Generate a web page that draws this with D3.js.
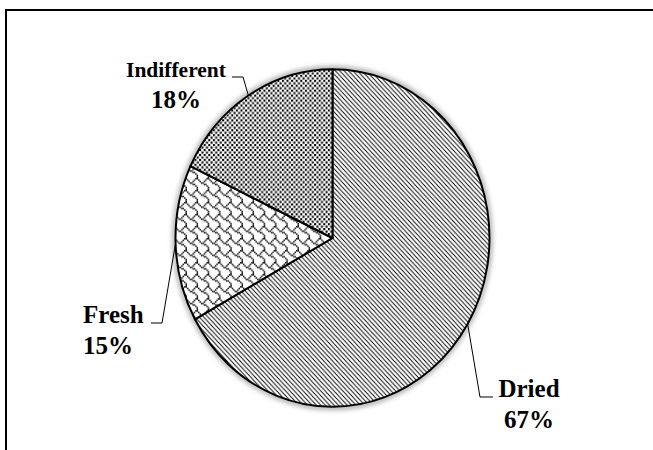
<!DOCTYPE html>
<html>
<head>
<meta charset="utf-8">
<script src="https://cdn.jsdelivr.net/npm/d3@7"></script>
<style>
  html, body { margin: 0; padding: 0; background: #fff; overflow: hidden; }
  svg { display: block; }
  .lbl { font-family: "Liberation Serif", "Times New Roman", serif; font-weight: bold; fill: #000; }
</style>
</head>
<body>
<div id="chart"></div>
<script>
// datos del grafico
const categories = ['Dried', 'Fresh', 'Indifferent'];
const shares = [67, 15, 18];
const pctLabels = ['67%', '15%', '18%'];

const width = 653;
const height = 450;
const cx = 332.5, cy = 238;
const radius = 157;
const stretch = 1.075; // la imagen original esta algo estirada en vertical

const svg = d3.select('#chart')
  .append('svg')
  .attr('width', width)
  .attr('height', height);

const defs = svg.append('defs');

// trama "Shingle" de Excel, bitmap 8x8 dibujado con rectangulos
function bitmapPattern(id, rows, s) {
  const p = defs.append('pattern')
    .attr('id', id)
    .attr('patternUnits', 'userSpaceOnUse')
    .attr('width', 8 * s)
    .attr('height', rows.length * s);
  p.append('rect').attr('width', 8 * s).attr('height', rows.length * s).attr('fill', '#fff');
  rows.forEach((r, j) => {
    for (let i = 0; i < 8; i++) {
      if (r & (0x80 >> i)) {
        p.append('rect')
          .attr('x', i * s).attr('y', j * s)
          .attr('width', s).attr('height', s)
          .attr('fill', '#000');
      }
    }
  });
}
bitmapPattern('pat-fresh', [0x03, 0x84, 0x48, 0x30, 0x0c, 0x02, 0x01, 0x01], 1.4);

// rayas diagonales para "Dried"
const step = 4.4;
const stripes = defs.append('pattern')
  .attr('id', 'pat-dried')
  .attr('patternUnits', 'userSpaceOnUse')
  .attr('width', step).attr('height', step);
stripes.append('rect').attr('width', step).attr('height', step).attr('fill', '#fff');
stripes.append('path')
  .attr('d', `M${-step},0 L${step},${2 * step} M0,${-step} L${2 * step},${step} M${-step},${-step} L${2 * step},${2 * step}`)
  .attr('stroke', '#000')
  .attr('stroke-width', 0.9);

// puntos para "Indifferent"
const ds = 4.6;
const dots = defs.append('pattern')
  .attr('id', 'pat-indif')
  .attr('patternUnits', 'userSpaceOnUse')
  .attr('width', ds).attr('height', ds);
dots.append('rect').attr('width', ds).attr('height', ds).attr('fill', '#fff');
dots.append('rect').attr('x', 0).attr('y', 0).attr('width', 2).attr('height', 2).attr('fill', '#000');
dots.append('rect').attr('x', ds / 2).attr('y', ds / 2).attr('width', 2).attr('height', 2).attr('fill', '#000');

const fills = ['url(#pat-dried)', 'url(#pat-fresh)', 'url(#pat-indif)'];

const blur = defs.append('filter').attr('id', 'halo')
  .attr('x', '-10%').attr('y', '-10%').attr('width', '120%').attr('height', '120%');
blur.append('feGaussianBlur').attr('stdDeviation', 2.5);

// marco: solo se ven el borde superior y el izquierdo
svg.append('path')
  .attr('d', `M6,${height} L6,10 L${width},10`)
  .attr('fill', 'none')
  .attr('stroke', '#000')
  .attr('stroke-width', 2);

const data = categories.map((c, i) => ({ name: c, value: shares[i], label: pctLabels[i] }));

const pie = d3.pie().sort(null).value(d => d.value);
const arcs = pie(data);
const arc = d3.arc().innerRadius(0).outerRadius(radius);

const g = svg.append('g')
  .attr('transform', `translate(${cx},${cy}) scale(1,${stretch})`);

// sombra suave alrededor
g.append('circle')
  .attr('r', radius + 1)
  .attr('fill', 'none')
  .attr('stroke', '#888')
  .attr('stroke-width', 3)
  .attr('filter', 'url(#halo)');

g.selectAll('.slice')
  .data(arcs)
  .enter()
  .append('path')
  .attr('class', 'slice')
  .attr('d', arc)
  .attr('fill', (d, i) => fills[i])
  .attr('stroke', '#000')
  .attr('stroke-width', 2)
  .attr('stroke-linejoin', 'round')
  .attr('vector-effect', 'non-scaling-stroke');

// posicion de etiquetas (layout, no datos)
const labelLayout = {
  Dried:       { elbow: [480, 397], end: [493, 397], x: 529, y: 397, size: 25, anchor: 'middle' },
  Fresh:       { elbow: [162, 323], end: [151, 323], x: 83,  y: 323, size: 25, anchor: 'start' },
  Indifferent: { elbow: [243, 77],  end: [232, 77],  x: 176, y: 77,  size: 21.5, anchor: 'middle' }
};

function edgePoint(d) {
  const a = (d.startAngle + d.endAngle) / 2;
  return [cx + Math.sin(a) * radius, cy - Math.cos(a) * radius * stretch];
}

const line = d3.line();

arcs.forEach(d => {
  const L = labelLayout[d.data.name];
  svg.append('path')
    .attr('d', line([edgePoint(d), L.elbow, L.end]))
    .attr('fill', 'none')
    .attr('stroke', '#000')
    .attr('stroke-width', 1);

  svg.append('text')
    .attr('class', 'lbl')
    .attr('x', L.x).attr('y', L.y)
    .attr('text-anchor', L.anchor)
    .style('font-size', L.size + 'px')
    .text(d.data.name);

  svg.append('text')
    .attr('class', 'lbl')
    .attr('x', L.x).attr('y', L.y + 31)
    .attr('text-anchor', L.anchor)
    .style('font-size', '25px')
    .text(d.data.label);
});
</script>
</body>
</html>
